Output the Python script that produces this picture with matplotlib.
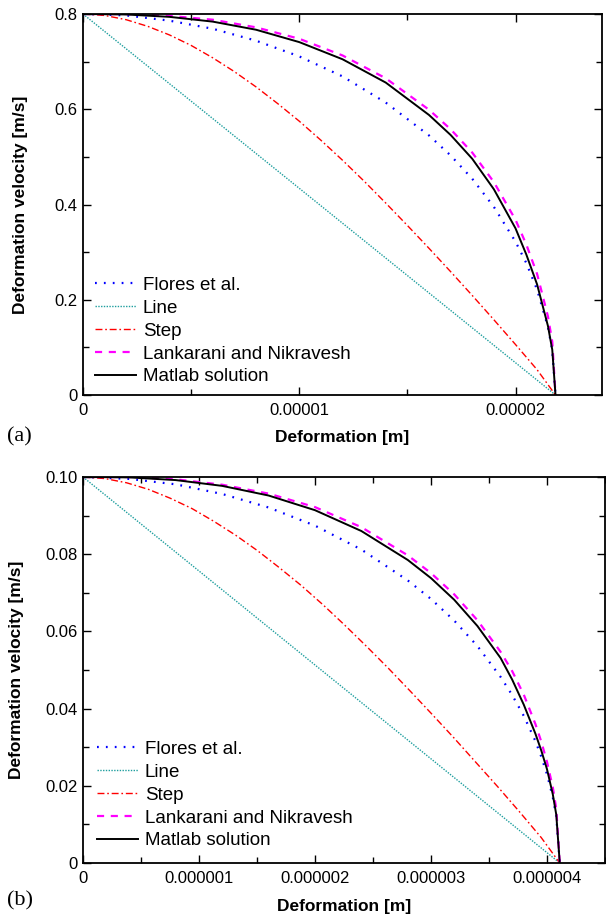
import matplotlib
matplotlib.use("Agg")
import matplotlib.pyplot as plt
from matplotlib.ticker import MultipleLocator

plt.rcParams['font.family'] = ['Liberation Sans', 'DejaVu Sans']

# ---------------- data: panel (a) ----------------
# deformation [1e-5 m]
defo_a = [0, 0.2, 0.4, 0.6, 0.8, 1.0, 1.2, 1.4, 1.6, 1.7, 1.8, 1.9, 2.0, 2.05, 2.1, 2.15, 2.17, 2.185]
flores_a = [0.800, 0.797, 0.786, 0.769, 0.744, 0.711, 0.669, 0.614, 0.545, 0.503, 0.454, 0.395,
            0.322, 0.277, 0.221, 0.143, 0.094, 0.0]
lankarani_a = [0.800, 0.800, 0.796, 0.788, 0.772, 0.748, 0.713, 0.665, 0.599, 0.558, 0.509, 0.447,
               0.368, 0.316, 0.254, 0.165, 0.112, 0.0]
matlab_a = [0.800, 0.799, 0.794, 0.784, 0.767, 0.741, 0.705, 0.656, 0.588, 0.546, 0.496, 0.432,
            0.350, 0.295, 0.232, 0.145, 0.095, 0.0]
defo_step_a = [0, 0.1, 0.2, 0.3, 0.4, 0.5, 0.6, 0.7, 0.8, 0.9, 1.0, 1.1, 1.2, 1.3, 1.4, 1.5,
               1.6, 1.7, 1.8, 1.9, 2.0, 2.1, 2.185]
step_a = [0.800, 0.797, 0.788, 0.774, 0.756, 0.734, 0.708, 0.679, 0.647, 0.612, 0.575, 0.535,
          0.493, 0.449, 0.403, 0.356, 0.308, 0.259, 0.209, 0.158, 0.106, 0.053, 0.0]
defo_line_a = [0, 1.0, 2.185]
line_a = [0.800, 0.434, 0.0]

# ---------------- data: panel (b) ----------------
# deformation [1e-6 m]
defo_b = [0, 0.4, 0.8, 1.2, 1.6, 2.0, 2.4, 2.8, 3.0, 3.2, 3.4, 3.6, 3.7, 3.8, 3.9, 3.95, 4.0, 4.05, 4.08, 4.11]
flores_b = [0.1000, 0.0995, 0.0981, 0.0956, 0.0921, 0.0874, 0.0812, 0.0732, 0.0684, 0.0628, 0.0562,
            0.0482, 0.0435, 0.0381, 0.0316, 0.0276, 0.0230, 0.0170, 0.0121, 0.0]
lankarani_b = [0.1000, 0.1000, 0.0994, 0.0980, 0.0957, 0.0922, 0.0870, 0.0797, 0.0751, 0.0696, 0.0629,
               0.0547, 0.0497, 0.0436, 0.0360, 0.0315, 0.0262, 0.0196, 0.0140, 0.0]
matlab_b = [0.1000, 0.0999, 0.0992, 0.0977, 0.0952, 0.0914, 0.0860, 0.0785, 0.0738, 0.0682, 0.0614,
            0.0531, 0.0475, 0.0410, 0.0335, 0.0292, 0.0243, 0.0178, 0.0125, 0.0]
defo_step_b = [0, 0.188, 0.376, 0.564, 0.752, 0.941, 1.129, 1.317, 1.505, 1.693, 1.881, 2.069,
               2.257, 2.445, 2.634, 2.822, 3.010, 3.198, 3.386, 3.574, 3.762, 3.950, 4.11]
step_b = [0.1000, 0.0996, 0.0985, 0.0968, 0.0945, 0.0918, 0.0885, 0.0849, 0.0809, 0.0765, 0.0719,
          0.0669, 0.0616, 0.0561, 0.0504, 0.0445, 0.0385, 0.0324, 0.0261, 0.0198, 0.0133, 0.0066, 0.0]
defo_line_b = [0, 2.0, 4.11]
line_b = [0.1000, 0.0513, 0.0]

# ---------------- labels / ticks ----------------
series_labels = ["Flores et al.", "Line", "Step", "Lankarani and Nikravesh", "Matlab solution"]
xticks_a = [0, 1e-5, 2e-5]
xticklabels_a = ["0", "0.00001", "0.00002"]
yticks_a = [0, 0.2, 0.4, 0.6, 0.8]
yticklabels_a = ["0", "0.2", "0.4", "0.6", "0.8"]
xticks_b = [0, 1e-6, 2e-6, 3e-6, 4e-6]
xticklabels_b = ["0", "0.000001", "0.000002", "0.000003", "0.000004"]
yticks_b = [0, 0.02, 0.04, 0.06, 0.08, 0.10]
yticklabels_b = ["0", "0.02", "0.04", "0.06", "0.08", "0.10"]
xlabel = "Deformation [m]"
ylabel = "Deformation velocity [m/s]"

W, H = 606, 919
fig = plt.figure(figsize=(W / 100, H / 100), dpi=100)
ax1 = fig.add_axes([83 / W, 1 - 395 / H, 519 / W, 381 / H])
ax2 = fig.add_axes([83 / W, 1 - 863 / H, 522 / W, 386 / H])


def draw(ax, scale, d, fl, lk, mt, ds, st, dl, ln):
    x = [v * scale for v in d]
    ax.plot(x, fl, color='#0000ff', lw=1.6, linestyle=(0, (0.8, 3.2)), label=series_labels[0])
    ax.plot([v * scale for v in dl], ln, color='#1e9e9e', lw=1.0, linestyle=(0, (1, 1)),
            label=series_labels[1])
    ax.plot([v * scale for v in ds], st, color='#ff0000', lw=1.0, linestyle=(0, (5, 2, 1.2, 2)),
            label=series_labels[2])
    ax.plot(x, lk, color='#ff00ff', lw=1.6, linestyle=(0, (3.2, 3.0)), label=series_labels[3])
    ax.plot(x, mt, color='black', lw=1.4, label=series_labels[4])


draw(ax1, 1e-5, defo_a, flores_a, lankarani_a, matlab_a, defo_step_a, step_a, defo_line_a, line_a)
draw(ax2, 1e-6, defo_b, flores_b, lankarani_b, matlab_b, defo_step_b, step_b, defo_line_b, line_b)

ax1.set_xlim(0, 2.4e-5)
ax1.set_ylim(0, 0.8)
ax1.set_xticks(xticks_a, labels=xticklabels_a)
ax1.set_yticks(yticks_a, labels=yticklabels_a)
ax1.xaxis.set_minor_locator(MultipleLocator(0.5e-5))
ax1.yaxis.set_minor_locator(MultipleLocator(0.1))

ax2.set_xlim(0, 4.5e-6)
ax2.set_ylim(0, 0.10)
ax2.set_xticks(xticks_b, labels=xticklabels_b)
ax2.set_yticks(yticks_b, labels=yticklabels_b)
ax2.xaxis.set_minor_locator(MultipleLocator(0.5e-6))
ax2.yaxis.set_minor_locator(MultipleLocator(0.01))

for ax in (ax1, ax2):
    for s in ax.spines.values():
        s.set_linewidth(1.3)
    ax.tick_params(which='both', direction='in', top=True, right=True, width=1.0,
                   labelsize=12)
    ax.tick_params(which='major', length=6)
    ax.tick_params(which='minor', length=4)
    ax.tick_params(axis='x', which='both', pad=6)
    ax.tick_params(axis='y', which='both', pad=4)
    ax.set_xlabel(xlabel, fontsize=12.5, fontweight='bold')
    ax.set_ylabel(ylabel, fontsize=12.5, fontweight='bold')

ax1.xaxis.set_label_coords(0.5, -0.093)
ax2.xaxis.set_label_coords(0.5, -0.092)
ax1.yaxis.set_label_coords(-0.106, 0.5)
ax2.yaxis.set_label_coords(-0.113, 0.5)

leg_kw = dict(loc='lower left', frameon=False, fontsize=13.5, handlelength=2.2,
              handletextpad=0.35, labelspacing=0.31, borderaxespad=0, borderpad=0)
ax1.legend(bbox_to_anchor=(0.023, 0.025), **leg_kw)
ax2.legend(bbox_to_anchor=(0.027, 0.035), **leg_kw)

fig.text(7 / W, 1 - 437 / H, "(a)", family=['Liberation Serif', 'DejaVu Serif'], fontsize=16,
         ha='left', va='center')
fig.text(7 / W, 1 - 901 / H, "(b)", family=['Liberation Serif', 'DejaVu Serif'], fontsize=16,
         ha='left', va='center')

fig.savefig("out.png", dpi=100)
